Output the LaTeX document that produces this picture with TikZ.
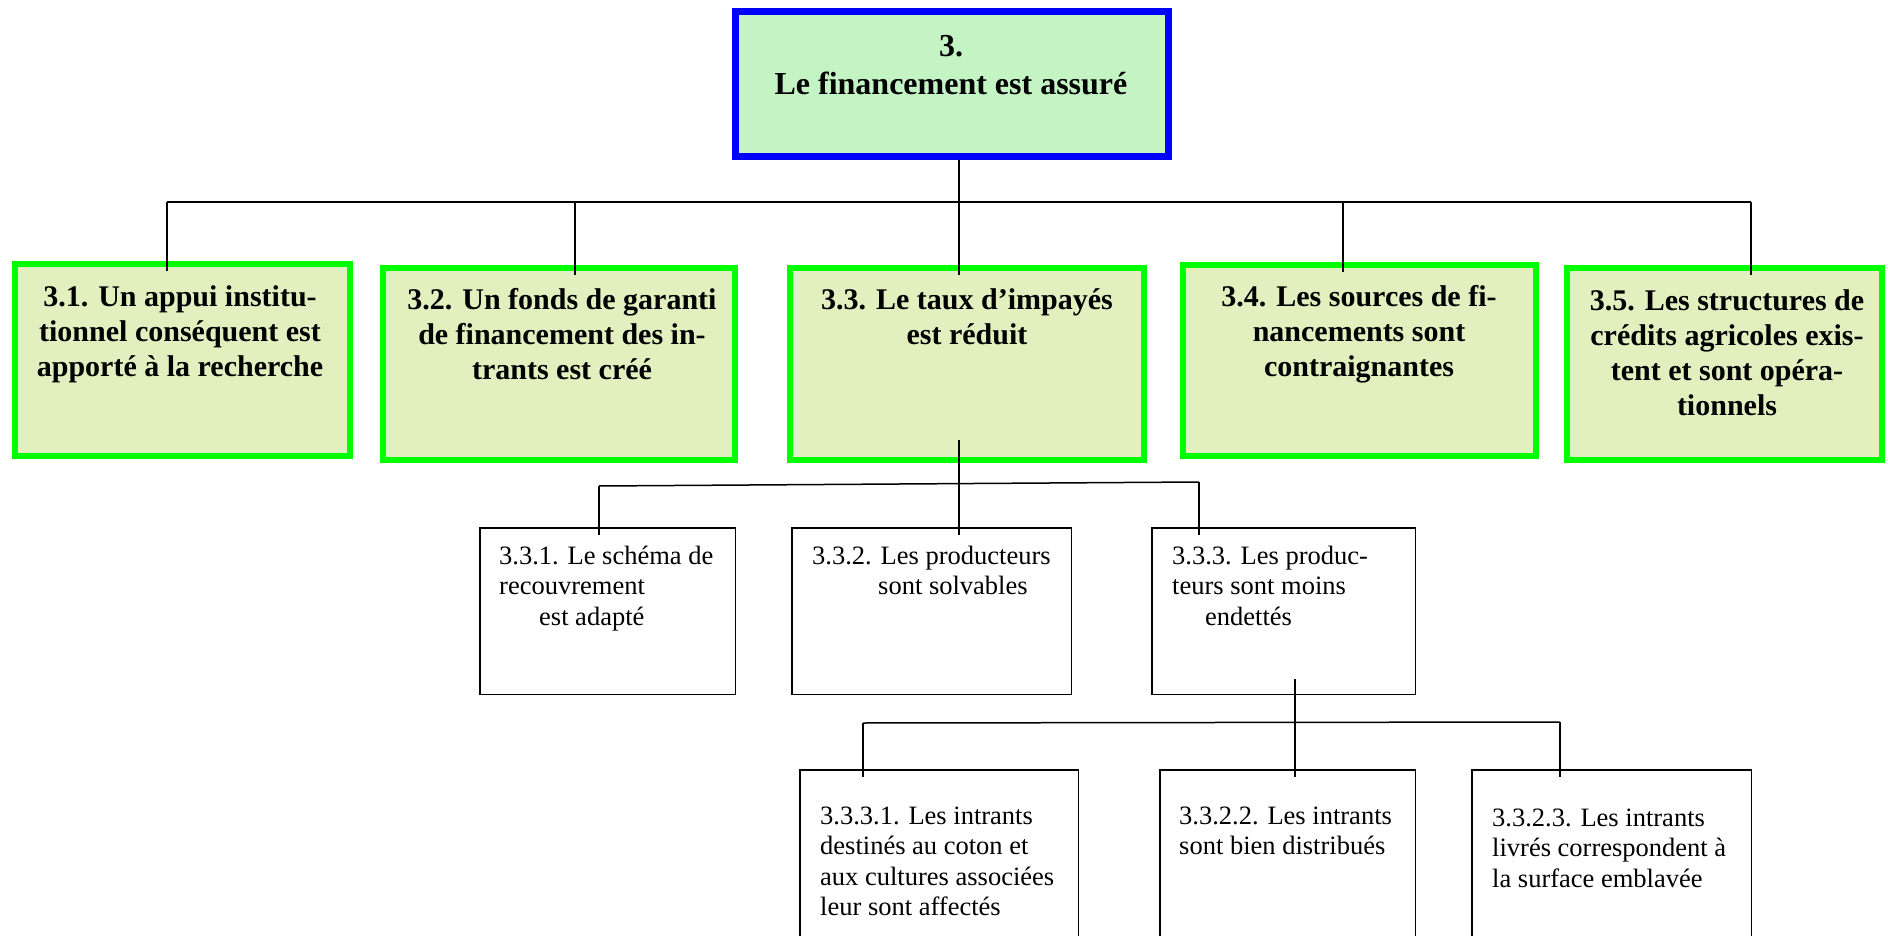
\documentclass[tikz,border=0pt]{standalone}
\usepackage{fontspec}
\setmainfont{Liberation Serif}
\usetikzlibrary{calc}
\definecolor{topblue}{RGB}{0,0,255}
\definecolor{topfill}{RGB}{196,244,196}
\definecolor{boxgreen}{RGB}{0,255,0}
\definecolor{onefill}{RGB}{226,239,190}
\begin{document}
\begin{tikzpicture}[x=1pt,y=-1pt,
  topbox/.style={draw=topblue, line width=7pt, fill=topfill, inner sep=0pt},
  lvlone/.style={draw=boxgreen, line width=6pt, fill=onefill, inner sep=0pt},
  plainbox/.style={draw=black, line width=1.5pt, fill=white, inner sep=0pt},
  link/.style={draw=black, line width=1.5pt},
  toptext/.style={align=center, font=\fontsize{32}{38}\selectfont\bfseries, inner sep=0pt, anchor=base},
  onetext/.style={align=center, font=\fontsize{30}{35}\selectfont\bfseries, inner sep=0pt, anchor=base},
  twotext/.style={align=left, font=\fontsize{26.5}{30.5}\selectfont, inner sep=0pt, anchor=base west},
]
\useasboundingbox (0,0) rectangle (1888,936);
\fill[white] (0,0) rectangle (1888,936);
\clip (0,0) rectangle (1888,936);

% top box
\node[topbox, minimum width=433pt, minimum height=145pt] (top) at (952,84) {};
\node[toptext] (ttop) at (951,95) {3.\\Le financement est assuré};

% level one
\node[lvlone, minimum width=335pt, minimum height=192pt] (n31) at (182.5,360) {};
\node[lvlone, minimum width=352pt, minimum height=192pt] (n32) at (559,364) {};
\node[lvlone, minimum width=354pt, minimum height=192pt] (n33) at (967,364) {};
\node[lvlone, minimum width=353pt, minimum height=191pt] (n34) at (1359.5,360.5) {};
\node[lvlone, minimum width=315pt, minimum height=192pt] (n35) at (1724.5,364) {};

\node[onetext] (t31) at (180,376) {3.1. Un appui institu-\\tionnel conséquent est\\apporté à la recherche};
\node[onetext] (t32) at (562,379) {3.2. Un fonds de garanti\\de financement des in-\\trants est créé};
\node[onetext] (t33) at (967,344) {3.3. Le taux d’impayés\\est réduit};
\node[onetext] (t34) at (1359,376) {3.4. Les sources de fi-\\nancements sont\\contraignantes};
\node[onetext] (t35) at (1727,415) {3.5. Les structures de\\crédits agricoles exis-\\tent et sont opéra-\\tionnels};

% level two
\node[plainbox, minimum width=255.5pt, minimum height=166.5pt] (n331) at (607.5,611) {};
\node[plainbox, minimum width=279.5pt, minimum height=166.5pt] (n332) at (931.5,611) {};
\node[plainbox, minimum width=263.5pt, minimum height=166.5pt] (n333) at (1283.5,611) {};

\node[twotext] (t331) at (499,625) {3.3.1. Le schéma de\\recouvrement\\\hspace*{40pt}est adapté};
\node[twotext] (t332) at (812,594.5) {3.3.2. Les producteurs\\\hspace*{66pt}sont solvables};
\node[twotext] (t333) at (1172,625) {3.3.3. Les produc-\\teurs sont moins\\\hspace*{33pt}endettés};

% level three
\node[plainbox, minimum width=278.5pt, minimum height=189.5pt] (n3331) at (939,864.5) {};
\node[plainbox, minimum width=255.5pt, minimum height=189.5pt] (n3322) at (1287.5,864.5) {};
\node[plainbox, minimum width=279.5pt, minimum height=189.5pt] (n3323) at (1611.5,864.5) {};

\node[twotext] (t3331) at (820,915.5) {3.3.3.1. Les intrants\\destinés au coton et\\aux cultures associées\\leur sont affectés};
\node[twotext] (t3322) at (1179,854.5) {3.3.2.2. Les intrants\\sont bien distribués};
\node[twotext] (t3323) at (1492,887) {3.3.2.3. Les intrants\\livrés correspondent à\\la surface emblavée};

% connectors, level one
\coordinate (x31) at (167,202);
\coordinate (x32) at (575,202);
\coordinate (x33) at (959,202);
\coordinate (x34) at (1343,202);
\coordinate (x35) at (1751,202);
\draw[link] (x31) -- (x35);
\draw[link] (x33 |- top.south) -- ($(x33 |- n33.north)+(0,10)$);
\foreach \n in {31,32,34,35}
  \draw[link] (x\n) -- ($(x\n |- n\n.north)+(0,10)$);

% connectors, level two
\coordinate (y1) at (599,486);
\coordinate (y2) at (959,484);
\coordinate (y3) at (1199,482);
\draw[link] (y1) -- (y3);
\draw[link] ($(y2 |- n33.south)+(0,-23)$) -- ($(y2 |- n332.north)+(0,8)$);
\draw[link] (y1) -- ($(y1 |- n331.north)+(0,8)$);
\draw[link] (y3) -- ($(y3 |- n333.north)+(0,8)$);

% connectors, level three
\coordinate (z1) at (863,723);
\coordinate (z2) at (1295,723);
\coordinate (z3) at (1560,722);
\draw[link] (z1) -- (z3);
\draw[link] ($(z2 |- n333.south)+(0,-16)$) -- ($(z2 |- n3322.north)+(0,8)$);
\draw[link] (z1) -- ($(z1 |- n3331.north)+(0,8)$);
\draw[link] (z3) -- ($(z3 |- n3323.north)+(0,8)$);
\end{tikzpicture}
\end{document}
